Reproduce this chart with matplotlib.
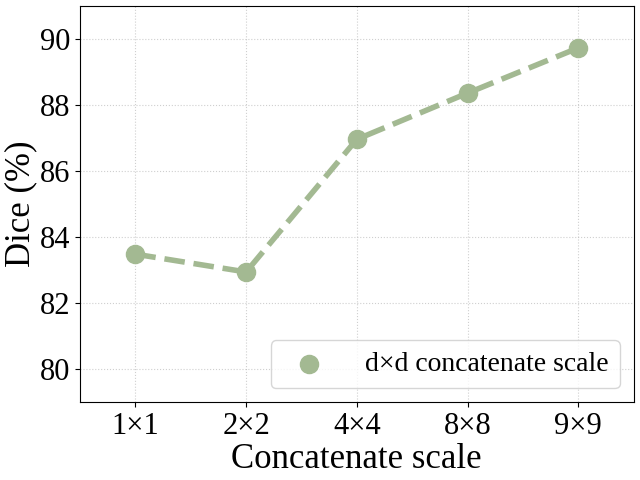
import matplotlib

matplotlib.use("Agg")
import matplotlib.pyplot as plt
import numpy as np

scales = ["1×1", "2×2", "4×4", "8×8", "9×9"]
dice = [83.48, 82.94, 86.96, 88.36, 89.73]

plt.rcParams["font.family"] = ["Liberation Serif", "DejaVu Serif"]
color = "#a3b992"

fig, ax = plt.subplots(figsize=(6.4, 4.8), dpi=100)
x_pos = np.arange(len(scales))
ax.plot(x_pos, dice, "--", color=color, linewidth=4)
ax.scatter(x_pos, dice, s=170, color=color, zorder=3, label="d×d concatenate scale")

ax.set_xlim(-0.5, 4.5)
ax.set_ylim(79, 91)
ax.set_yticks([80, 82, 84, 86, 88, 90])
ax.set_xticks(x_pos)
ax.set_xticklabels(scales)
ax.tick_params(labelsize=22)
ax.set_xlabel("Concatenate scale", fontsize=25, labelpad=2)
ax.set_ylabel("Dice (%)", fontsize=25, labelpad=2)
ax.grid(linestyle=":", alpha=0.6)
ax.legend(loc="lower right", fontsize=20, handletextpad=1.0)
fig.subplots_adjust(left=0.125, right=0.99, top=0.9875, bottom=0.1625)
fig.savefig("out.png", dpi=100)
plt.close(fig)
